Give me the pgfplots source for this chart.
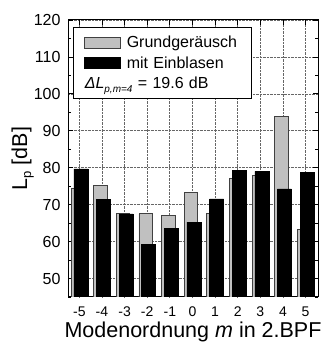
\documentclass[border=0pt]{standalone}
\usepackage{fontspec}
\setmainfont{Liberation Sans}
\usepackage{pgfplots}
\pgfplotsset{compat=1.18}
\definecolor{barGray}{HTML}{C0C0C0}
\newcommand{\lgf}{\fontsize{16}{19}\selectfont}
\begin{document}
\begin{tikzpicture}
\begin{axis}[
  scale only axis,
  width=250pt, height=277pt,
  xmin=-5.5, xmax=5.55,
  ymin=45, ymax=120,
  xtick={-5,-4,-3,-2,-1,0,1,2,3,4,5},
  xticklabels={-5,-4,-3,-2,-1,0,1,2,3,4,5},
  ytick={50,60,70,80,90,100,110,120},
  minor ytick={45,55,65,75,85,95,105,115},
  xtick pos=both, ytick pos=both,
  tick align=inside,
  major tick length=5pt, minor tick length=3pt,
  tick style={black, line width=0.8pt},
  grid=major,
  major grid style={densely dotted, black!60, line width=0.7pt},
  axis line style={line width=1pt},
  /pgf/number format/assume math mode=true,
  yticklabel style={font=\fontsize{16}{19}\selectfont, xshift=-4pt},
  xticklabel style={font=\fontsize{14}{17}\selectfont, yshift=-6pt},
  label style={font=\fontsize{21.5}{25}\selectfont},
  xlabel={Modenordnung \textit{m} in 2.BPF},
  ylabel={L\raisebox{-4pt}{\fontsize{13}{13}\selectfont p} [dB]},
  xlabel style={yshift=1.5pt},
  ylabel style={at={(axis description cs:-0.181,0.5)}, anchor=center},
  legend cell align=left,
  legend style={at={(0,1)}, anchor=north west, xshift=5pt, yshift=-7pt,
    draw=black, line width=1pt, fill=white, font=\lgf,
    nodes={inner sep=1.5pt, text height=14pt, text depth=3.5pt},
    /tikz/every even column/.append style={text width=113pt},
    column sep=5pt,
    row sep=0pt, inner xsep=10pt, inner ysep=4.75pt},
]
\addplot[ybar, bar width=13.5pt, bar shift=-1.5pt, fill=barGray, draw=black!75, line width=0.8pt,
  legend image code/.code={\draw[fill=barGray, draw=black!75, line width=0.8pt] (0pt,-5.5pt) rectangle (36pt,5.5pt);}]
  coordinates {(-5,74.3) (-4,75.2) (-3,67.7) (-2,67.5) (-1,67.2) (0,73.2) (1,67.6) (2,77.1) (3,77.9) (4,93.8) (5,63.4)};
\addlegendentry{Grundgeräusch}
\addplot[ybar, bar width=14pt, bar shift=1.5pt, fill=black, draw=black, line width=0.5pt,
  legend image code/.code={\draw[fill=black, draw=black] (0pt,-5.5pt) rectangle (36pt,5.5pt);}]
  coordinates {(-5,79.7) (-4,71.4) (-3,67.5) (-2,59.3) (-1,63.5) (0,65.3) (1,71.6) (2,79.2) (3,79.0) (4,74.3) (5,78.8)};
\addlegendentry{mit Einblasen}
\addlegendimage{empty legend}
\addlegendentry{\hspace*{-42pt}\textit{ΔL}\raisebox{-4pt}{\fontsize{10}{10}\selectfont\textit{p,m=4}} = 19.6 dB}
\coordinate (SW) at (rel axis cs:0,0);
\coordinate (NE) at (rel axis cs:1,1);
\end{axis}
\pgfresetboundingbox
\path[use as bounding box] ([xshift=-68pt,yshift=-49pt]SW) rectangle ([xshift=7pt,yshift=20pt]NE);
\end{tikzpicture}
\end{document}
